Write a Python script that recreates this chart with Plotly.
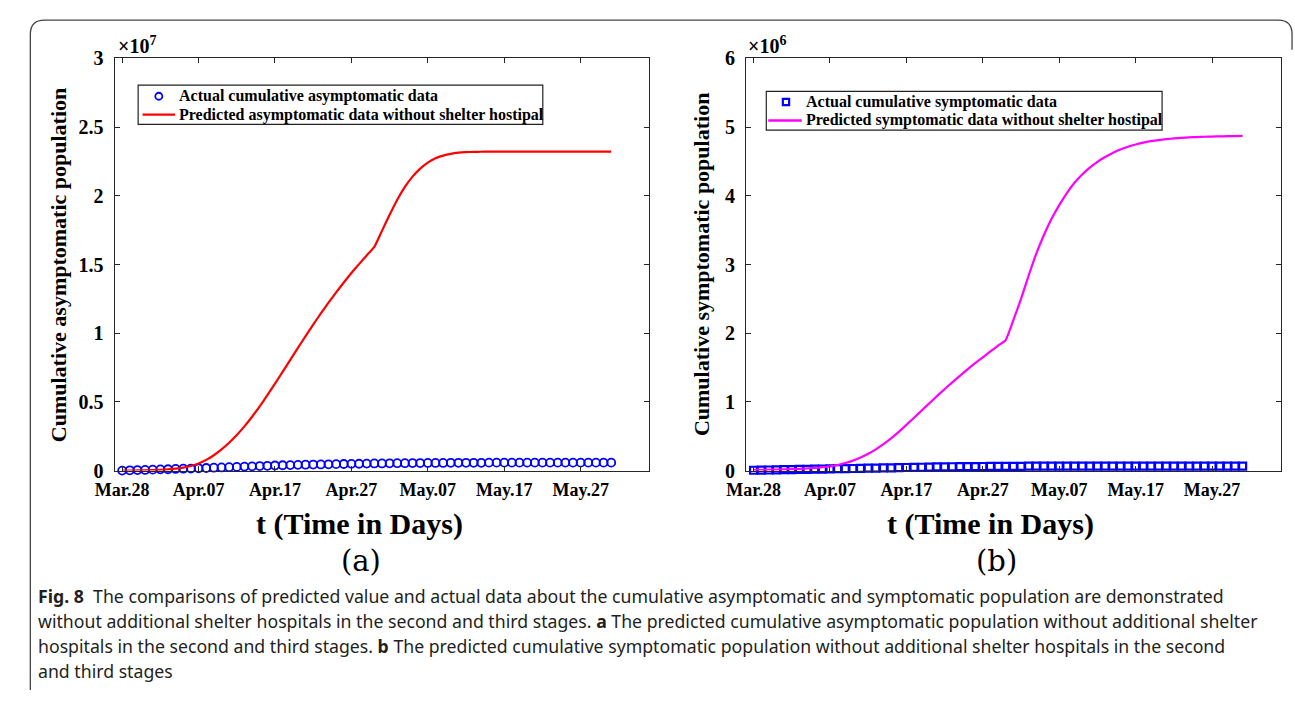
import plotly.graph_objects as go

W, H = 1295, 701

days = list(range(65))
tick_days = [0, 10, 20, 30, 40, 50, 60]
tick_labels = ["Mar.28", "Apr.07", "Apr.17", "Apr.27", "May.07", "May.17", "May.27"]

# (a) cumulative asymptomatic population, units of 1e7
asym_actual = [0.000, 0.002, 0.004, 0.005, 0.007, 0.009, 0.010, 0.012, 0.014, 0.015,
               0.017, 0.019, 0.021, 0.023, 0.025, 0.027, 0.029, 0.031, 0.033, 0.035,
               0.037, 0.039, 0.040, 0.042, 0.043, 0.044, 0.045, 0.046, 0.047, 0.048,
               0.049, 0.050, 0.051, 0.052, 0.052, 0.053, 0.054, 0.054, 0.055, 0.055,
               0.056, 0.056, 0.056, 0.057, 0.057, 0.057, 0.057, 0.057, 0.058, 0.058,
               0.058, 0.058, 0.058, 0.058, 0.058, 0.058, 0.058, 0.058, 0.058, 0.058,
               0.058, 0.058, 0.058, 0.058, 0.058]
asym_pred = [0.000, 0.0005, 0.001, 0.002, 0.004, 0.006, 0.009, 0.014, 0.022, 0.034,
             0.052, 0.078, 0.112, 0.154, 0.203, 0.259, 0.322, 0.392, 0.468, 0.549,
             0.633, 0.719, 0.806, 0.893, 0.979, 1.063, 1.144, 1.222, 1.297, 1.369,
             1.438, 1.503, 1.566, 1.628, 1.745, 1.862, 1.972, 2.065, 2.140, 2.198,
             2.242, 2.273, 2.293, 2.306, 2.314, 2.318, 2.320, 2.321, 2.322, 2.322,
             2.322, 2.322, 2.322, 2.322, 2.322, 2.322, 2.322, 2.322, 2.322, 2.322,
             2.322, 2.322, 2.322, 2.322, 2.322]

# (b) cumulative symptomatic population, units of 1e6
sym_actual = [0.005, 0.007, 0.009, 0.011, 0.013, 0.015, 0.017, 0.019, 0.021, 0.023,
              0.025, 0.027, 0.029, 0.031, 0.033, 0.035, 0.037, 0.039, 0.041, 0.043,
              0.045, 0.047, 0.049, 0.051, 0.053, 0.055, 0.056, 0.057, 0.058, 0.059,
              0.060, 0.061, 0.062, 0.062, 0.063, 0.063, 0.064, 0.064, 0.064, 0.065,
              0.065, 0.065, 0.065, 0.065, 0.065, 0.065, 0.065, 0.065, 0.065, 0.065,
              0.065, 0.065, 0.065, 0.065, 0.065, 0.065, 0.065, 0.065, 0.065, 0.065,
              0.065, 0.065, 0.065, 0.065, 0.065]
sym_pred = [0.010, 0.011, 0.013, 0.015, 0.018, 0.021, 0.025, 0.031, 0.039, 0.050,
            0.062, 0.082, 0.110, 0.145, 0.190, 0.245, 0.310, 0.385, 0.470, 0.565,
            0.665, 0.770, 0.875, 0.980, 1.085, 1.185, 1.285, 1.380, 1.475, 1.565,
            1.650, 1.735, 1.820, 1.900, 2.190, 2.500, 2.840, 3.160, 3.430, 3.665,
            3.865, 4.040, 4.190, 4.310, 4.410, 4.495, 4.565, 4.625, 4.675, 4.715,
            4.748, 4.774, 4.796, 4.812, 4.826, 4.837, 4.845, 4.851, 4.856, 4.860,
            4.863, 4.866, 4.868, 4.870, 4.872]

legend_a = ["Actual cumulative asymptomatic data", "Predicted asymptomatic data without shelter hostipal"]
legend_b = ["Actual cumulative symptomatic data", "Predicted symptomatic data without shelter hostipal"]

BLUE = "#0000FF"
RED = "#FF0000"
MAG = "#FF00FF"
SERIF = "Liberation Serif"
SANS = "Noto Sans"
AX = "#262626"


def px(x):
    return x / W


def py(y):
    return 1 - y / H


fig = go.Figure()
fig.add_trace(go.Scatter(x=days, y=asym_actual, mode="markers", name=legend_a[0],
                         marker=dict(symbol="circle-open", size=8, color=BLUE, line=dict(width=1.8, color=BLUE)),
                         cliponaxis=False, xaxis="x", yaxis="y"))
fig.add_trace(go.Scatter(x=days, y=asym_pred, mode="lines", name=legend_a[1],
                         line=dict(color=RED, width=2.2, shape="spline", smoothing=0.4),
                         xaxis="x", yaxis="y"))
fig.add_trace(go.Scatter(x=days, y=sym_actual, mode="markers", name=legend_b[0],
                         marker=dict(symbol="square-open", size=7, color=BLUE, line=dict(width=2.2, color=BLUE)),
                         cliponaxis=False, xaxis="x2", yaxis="y2"))
fig.add_trace(go.Scatter(x=days, y=sym_pred, mode="lines", name=legend_b[1],
                         line=dict(color=MAG, width=2.2, shape="spline", smoothing=0.4),
                         xaxis="x2", yaxis="y2"))

xtickfont = dict(family=SERIF, size=18, color="black", weight="bold")
ytickfont = dict(family=SERIF, size=20, color="black", weight="bold")
xcommon = dict(range=[-1, 69], tickvals=tick_days, ticktext=tick_labels, ticks="inside", ticklen=5,
               tickcolor=AX, showline=True, linecolor=AX, linewidth=1, mirror="ticks", showgrid=False,
               zeroline=False, tickfont=xtickfont, ticklabelstandoff=3)
ycommon = dict(ticks="inside", ticklen=5, tickcolor=AX, showline=True, linecolor=AX, linewidth=1,
               mirror="ticks", showgrid=False, zeroline=False, tickfont=ytickfont, ticklabelstandoff=6)

ytop, ybot = py(49), py(474.5)
fig.update_layout(
    width=W, height=H, autosize=False, margin=dict(l=0, r=0, t=0, b=0),
    paper_bgcolor="white", plot_bgcolor="white", showlegend=False,
    xaxis=dict(domain=[px(96), px(639.3)], anchor="y", **xcommon),
    yaxis=dict(domain=[ybot, ytop], anchor="x", range=[0, 3], tickvals=[0, 0.5, 1, 1.5, 2, 2.5, 3],
               ticktext=["0", "0.5", "1", "1.5", "2", "2.5", "3"], **ycommon),
    xaxis2=dict(domain=[px(737.3), px(1280.6)], anchor="y2", **xcommon),
    yaxis2=dict(domain=[ybot, ytop], anchor="x2", range=[0, 6], tickvals=[0, 1, 2, 3, 4, 5, 6],
                ticktext=["0", "1", "2", "3", "4", "5", "6"], **ycommon),
)

ann = []
shapes = []


def legend_box(x0, y0, x1, y1, rows, texts, sym_kind, line_color, line_x0, line_x1, sym_x, text_x):
    shapes.append(dict(type="rect", x0=px(x0), x1=px(x1), y0=py(y0), y1=py(y1), fillcolor="white",
                       line=dict(color="#222", width=1.2), layer="above"))
    r = 3.6
    if sym_kind == "circle":
        shapes.append(dict(type="circle", x0=px(sym_x - r), x1=px(sym_x + r), y0=py(rows[0] - r), y1=py(rows[0] + r),
                           line=dict(color=BLUE, width=1.8), layer="above"))
    else:
        shapes.append(dict(type="rect", x0=px(sym_x - 3.2), x1=px(sym_x + 3.2), y0=py(rows[0] - 3.2),
                           y1=py(rows[0] + 3.2), line=dict(color=BLUE, width=2.2), layer="above"))
    shapes.append(dict(type="line", x0=px(line_x0), x1=px(line_x1), y0=py(rows[1]), y1=py(rows[1]),
                       line=dict(color=line_color, width=2.4), layer="above"))
    for yy, t in zip(rows, texts):
        ann.append(dict(text="<b>" + t + "</b>", x=px(text_x), y=py(yy), xanchor="left", yanchor="middle",
                        font=dict(family=SERIF, size=16, color="black")))


legend_box(120, 76.5, 531, 117, [88, 107], legend_a, "circle", RED, 124.5, 157.5, 141, 159)
legend_box(758, 83, 1160, 123, [94, 113], legend_b, "square", MAG, 760, 794, 778, 796)

# exponent labels
ann.append(dict(text="<b>×10<sup>7</sup></b>", x=px(97), y=py(50), xanchor="left", yanchor="bottom",
                font=dict(family=SERIF, size=20, color="black")))
ann.append(dict(text="<b>×10<sup>6</sup></b>", x=px(737), y=py(50), xanchor="left", yanchor="bottom",
                font=dict(family=SERIF, size=20, color="black")))
# axis titles
ann.append(dict(text="<b>Cumulative asymptomatic population</b>", x=px(39), y=py(262), textangle=-90,
                xanchor="center", yanchor="middle", font=dict(family=SERIF, size=22, color="black")))
ann.append(dict(text="<b>Cumulative symptomatic population</b>", x=px(692), y=py(262), textangle=-90,
                xanchor="center", yanchor="middle", font=dict(family=SERIF, size=22, color="black")))
ann.append(dict(text="<b>t (Time in Days)</b>", x=px(345), y=py(530), xanchor="center", yanchor="middle",
                font=dict(family=SERIF, size=30, color="black")))
ann.append(dict(text="<b>t (Time in Days)</b>", x=px(986), y=py(530), xanchor="center", yanchor="middle",
                font=dict(family=SERIF, size=30, color="black")))
# panel labels
ann.append(dict(text="(a)", x=px(346), y=py(568), xanchor="center", yanchor="middle",
                font=dict(family="DejaVu Serif", size=29, color="black")))
ann.append(dict(text="(b)", x=px(992), y=py(568), xanchor="center", yanchor="middle",
                font=dict(family="DejaVu Serif", size=29, color="black")))
# caption
cap = [
    "<b>Fig. 8</b>  The comparisons of predicted value and actual data about the cumulative asymptomatic and symptomatic population are demonstrated",
    "without additional shelter hospitals in the second and third stages. <b>a</b> The predicted cumulative asymptomatic population without additional shelter",
    "hospitals in the second and third stages. <b>b</b> The predicted cumulative symptomatic population without additional shelter hospitals in the second",
    "and third stages",
]
for i, line in enumerate(cap):
    ann.append(dict(text=line, x=px(16), y=py(604 + 25.7 * i), xanchor="left", yanchor="middle",
                    font=dict(family=SANS, size=17.7, color="#231f20")))
for a in ann:
    a.update(xref="paper", yref="paper", showarrow=False)

# page frame with rounded corners
path = (f"M {px(1292)} {py(40)} L {px(1292)} {py(24)} Q {px(1292)} {py(9.5)} {px(1278)} {py(9.5)} "
        f"L {px(25)} {py(9.5)} Q {px(10.5)} {py(9.5)} {px(10.5)} {py(24)} L {px(10.5)} {py(701)}")
shapes.append(dict(type="path", path=path, line=dict(color="#444", width=1.3)))
for s in shapes:
    s.update(xref="paper", yref="paper")
fig.update_layout(annotations=ann, shapes=shapes)

fig.write_html("out.html")
